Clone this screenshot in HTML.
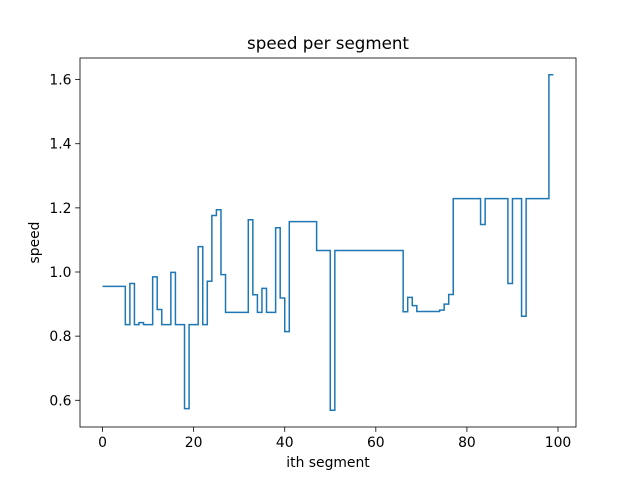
<!DOCTYPE html>
<html><head><meta charset="utf-8"><style>
body{margin:0;background:#fff}
svg text{font-family:"DejaVu Sans","Liberation Sans",sans-serif;fill:#000}
</style></head><body>
<svg id="chart" width="640" height="480" xmlns="http://www.w3.org/2000/svg">
<rect width="640" height="480" fill="#fff"/>
<text x="328" y="49" font-size="16.7" text-anchor="middle">speed per segment</text>
<text x="328" y="467" font-size="13.9" text-anchor="middle">ith segment</text>
<text x="39" y="242.5" font-size="13.9" text-anchor="middle" transform="rotate(-90 39 242.5)">speed</text>
<g id="xt"></g>
<g id="yt"></g>
<path id="line" fill="none" stroke="#1f77b4" stroke-width="1.5" stroke-linejoin="miter"/>
<rect x="80" y="58" width="496" height="369" fill="none" stroke="#000" stroke-width="0.8"/>
</svg>
<script>
const speeds = [0.955,0.955,0.955,0.955,0.955,0.955,0.836,0.964,0.836,0.842,0.836,0.836,0.985,0.883,0.836,0.836,0.999,0.836,0.836,0.574,0.836,0.836,1.079,0.836,0.971,1.176,1.194,0.992,0.874,0.874,0.874,0.874,0.874,1.163,0.929,0.874,0.949,0.874,0.874,1.138,0.919,0.814,1.157,1.157,1.157,1.157,1.157,1.157,1.067,1.067,1.067,0.569,1.067,1.067,1.067,1.067,1.067,1.067,1.067,1.067,1.067,1.067,1.067,1.067,1.067,1.067,1.067,0.876,0.921,0.895,0.877,0.877,0.877,0.877,0.877,0.881,0.900,0.930,1.229,1.229,1.229,1.229,1.229,1.229,1.148,1.229,1.229,1.229,1.229,1.229,0.964,1.229,1.229,0.862,1.229,1.229,1.229,1.229,1.229,1.615];
const xTicks = [0,20,40,60,80,100];
const yTicks = [0.6,0.8,1.0,1.2,1.4,1.6];
const yTickLabels = ["0.6","0.8","1.0","1.2","1.4","1.6"];

const L=80,R=576,T=58,B=427,NS="http://www.w3.org/2000/svg";
const n=speeds.length, xmin=0, xmax=n-1, xm=(xmax-xmin)*0.05;
const ymn=Math.min(...speeds), ymx=Math.max(...speeds), ym=(ymx-ymn)*0.05;
const X=v=>L+(v-(xmin-xm))/((xmax+xm)-(xmin-xm))*(R-L);
const Y=v=>B-(v-(ymn-ym))/((ymx+ym)-(ymn-ym))*(B-T);
let d="M"+X(0)+","+Y(speeds[0]);
for(let i=1;i<n;i++){d+="L"+X(i-1)+","+Y(speeds[i])+"L"+X(i)+","+Y(speeds[i]);}
document.getElementById('line').setAttribute('d',d);
const xt=document.getElementById('xt'), yt=document.getElementById('yt');
xTicks.forEach(t=>{
  const l=document.createElementNS(NS,'line');
  l.setAttribute('x1',X(t));l.setAttribute('x2',X(t));l.setAttribute('y1',B);l.setAttribute('y2',B+4.9);l.setAttribute('stroke','#000');l.setAttribute('stroke-width','0.8');
  
  
  xt.appendChild(l);
  const s=document.createElementNS(NS,'text');
  s.setAttribute('x',X(t));s.setAttribute('y',B+20);s.setAttribute('font-size','13.9');s.setAttribute('text-anchor','middle');s.textContent=t;
  
  
  xt.appendChild(s);
});
yTicks.forEach((t,i)=>{
  const l=document.createElementNS(NS,'line');
  l.setAttribute('x1',L-4.9);l.setAttribute('x2',L);l.setAttribute('y1',Y(t));l.setAttribute('y2',Y(t));l.setAttribute('stroke','#000');l.setAttribute('stroke-width','0.8');
  
  
  yt.appendChild(l);
  const s=document.createElementNS(NS,'text');
  s.setAttribute('x',L-8.5);s.setAttribute('y',Y(t)+5);s.setAttribute('font-size','13.9');s.setAttribute('text-anchor','end');s.textContent=yTickLabels[i];
  
  
  yt.appendChild(s);
});
</script>
</body></html>
